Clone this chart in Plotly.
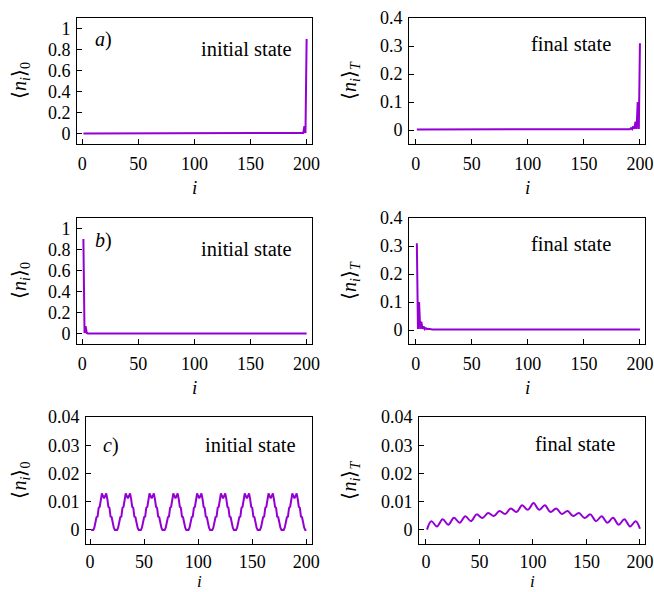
import plotly.graph_objects as go

W, H = 654, 592
PURPLE = "#9400D3"
FONT = "Liberation Serif"

# ---------------- data ----------------
sites = list(range(1, 201))

# panel a: initial / final occupation
a_initial = [0.0] * 195 + [0.001, 0.005, 0.07, 0.004, 0.90]
a_final = [0.002] * 188 + [0.003, 0.004, 0.003, 0.007, 0.003, 0.013,
                           0.004, 0.030, 0.004, 0.100, 0.004, 0.310]

# panel b: initial / final occupation
b_initial = [0.90, 0.004, 0.07, 0.005, 0.001] + [0.0] * 195
b_final = [0.310, 0.004, 0.100, 0.004, 0.030, 0.004, 0.013, 0.003,
           0.007, 0.003, 0.004, 0.003] + [0.002] * 188

# panel c: initial occupation (stepped periodic pattern)
c_initial = [0.0,
    0, 0, 0.0008, 0.0025, 0.0045, 0.0047, 0.0078, 0.0082, 0.0110, 0.0129, 0.0120, 0.0112, 0.0120, 0.0129, 0.0110, 0.0082, 0.0078, 0.0047, 0.0045, 0.0025, 0.0008, 0,
    0, 0, 0.0008, 0.0025, 0.0045, 0.0047, 0.0078, 0.0082, 0.0110, 0.0129, 0.0120, 0.0112, 0.0120, 0.0129, 0.0110, 0.0082, 0.0078, 0.0047, 0.0045, 0.0025, 0.0008, 0,
    0, 0, 0.0008, 0.0025, 0.0045, 0.0047, 0.0078, 0.0082, 0.0110, 0.0129, 0.0120, 0.0112, 0.0120, 0.0129, 0.0110, 0.0082, 0.0078, 0.0047, 0.0045, 0.0025, 0.0008, 0,
    0, 0, 0.0008, 0.0025, 0.0045, 0.0047, 0.0078, 0.0082, 0.0110, 0.0129, 0.0120, 0.0112, 0.0120, 0.0129, 0.0110, 0.0082, 0.0078, 0.0047, 0.0045, 0.0025, 0.0008, 0,
    0, 0, 0.0008, 0.0025, 0.0045, 0.0047, 0.0078, 0.0082, 0.0110, 0.0129, 0.0120, 0.0112, 0.0120, 0.0129, 0.0110, 0.0082, 0.0078, 0.0047, 0.0045, 0.0025, 0.0008, 0,
    0, 0, 0.0008, 0.0025, 0.0045, 0.0047, 0.0078, 0.0082, 0.0110, 0.0129, 0.0120, 0.0112, 0.0120, 0.0129, 0.0110, 0.0082, 0.0078, 0.0047, 0.0045, 0.0025, 0.0008, 0,
    0, 0, 0.0008, 0.0025, 0.0045, 0.0047, 0.0078, 0.0082, 0.0110, 0.0129, 0.0120, 0.0112, 0.0120, 0.0129, 0.0110, 0.0082, 0.0078, 0.0047, 0.0045, 0.0025, 0.0008, 0,
    0, 0, 0.0008, 0.0025, 0.0045, 0.0047, 0.0078, 0.0082, 0.0110, 0.0129, 0.0120, 0.0112, 0.0120, 0.0129, 0.0110, 0.0082, 0.0078, 0.0047, 0.0045, 0.0025, 0.0008, 0,
    0, 0, 0.0008, 0.0025, 0.0045, 0.0047, 0.0078, 0.0082, 0.0110, 0.0129, 0.0120, 0.0112, 0.0120, 0.0129, 0.0110, 0.0082, 0.0078, 0.0047, 0.0045, 0.0025, 0.0008, 0,
    0.0]

# panel c: final occupation (extrema of the smooth oscillating profile)
c_final_sites = [1, 5, 10.3, 15.6, 20.9, 26.2, 31.5, 36.8, 42.1, 47.4, 52.8, 58.1,
                 63.4, 68.7, 74.0, 79.3, 84.6, 89.9, 95.2, 100.5,
                 105.8, 111.1, 116.4, 121.7, 127.0, 132.3, 137.6, 142.9, 148.2,
                 153.6, 158.9, 164.2, 169.5, 174.8, 180.1, 185.4, 190.7, 196.0, 200]
c_final = [0.0001, 0.0031, 0.0012, 0.0038, 0.0018, 0.0043, 0.0025, 0.0048, 0.0031,
           0.0055, 0.0042, 0.0060, 0.0049, 0.0067, 0.0056, 0.0076, 0.0063, 0.0087,
           0.0071, 0.0095,
           0.0071, 0.0087, 0.0063, 0.0076, 0.0056, 0.0067, 0.0049, 0.0060, 0.0042,
           0.0055, 0.0031, 0.0048, 0.0025, 0.0043, 0.0018, 0.0038, 0.0012, 0.0031,
           0.0004]

x_ticks = [0, 50, 100, 150, 200]
y_ticks_big = [0, 0.2, 0.4, 0.6, 0.8, 1]
y_ticks_big_txt = ["0", "0.2", "0.4", "0.6", "0.8", "1"]
y_ticks_mid = [0, 0.1, 0.2, 0.3, 0.4]
y_ticks_mid_txt = ["0", "0.1", "0.2", "0.3", "0.4"]
y_ticks_small = [0, 0.01, 0.02, 0.03, 0.04]
y_ticks_small_txt = ["0", "0.01", "0.02", "0.03", "0.04"]

ylab0 = "⟨<i>n<sub>i</sub></i>⟩<sub>0</sub>"
ylabT = "⟨<i>n<sub>i</sub></i>⟩<sub><i>T</i></sub>"

# panels: (x, y, line_shape, box px [l, r, t, b], xrange, yrange, yticks, yticktxt,
#          ylabel, state text, panel tag)
panels = [
    (sites, a_initial, "linear", [77, 312, 18, 144], [-4.7, 204.8], [-0.1, 1.1],
     y_ticks_big, y_ticks_big_txt, ylab0, "initial state", "a"),
    (sites, a_final, "linear", [409, 645, 18, 144], [-6.0, 204.5], [-0.05, 0.4],
     y_ticks_mid, y_ticks_mid_txt, ylabT, "final state", None),
    (sites, b_initial, "linear", [77, 312, 218, 344], [-4.7, 204.8], [-0.1, 1.1],
     y_ticks_big, y_ticks_big_txt, ylab0, "initial state", "b"),
    (sites, b_final, "linear", [409, 645, 218, 344], [-6.0, 204.5], [-0.05, 0.4],
     y_ticks_mid, y_ticks_mid_txt, ylabT, "final state", None),
    (sites, c_initial, "linear", [86, 312, 417, 544], [-3.7, 205.2], [-0.005, 0.04],
     y_ticks_small, y_ticks_small_txt, ylab0, "initial state", "c"),
    (c_final_sites, c_final, "spline", [419, 645, 417, 544], [-6.5, 204.7], [-0.005, 0.04],
     y_ticks_small, y_ticks_small_txt, ylabT, "final state", None),
]

fig = go.Figure()
annotations = []
layout = {}
tickfont = dict(family=FONT, size=18, color="black")

for k, (xs, ys, shape, box, xr, yr, yt, ytt, ylab, state, tag) in enumerate(panels):
    n = k + 1
    xa = "x" if n == 1 else f"x{n}"
    ya = "y" if n == 1 else f"y{n}"
    l, r, t, b = box
    fig.add_trace(go.Scatter(
        x=xs, y=ys, mode="lines", xaxis=xa, yaxis=ya,
        line=dict(color=PURPLE, width=2, shape=shape),
        showlegend=False, hoverinfo="skip"))
    common = dict(showline=True, linecolor="black", linewidth=1, mirror=True,
                  ticks="inside", ticklen=5, tickcolor="black", tickwidth=1,
                  showgrid=False, zeroline=False, tickfont=tickfont,
                  automargin=False)
    layout["xaxis" if n == 1 else f"xaxis{n}"] = dict(
        domain=[l / W, r / W], range=xr, anchor=ya, tickvals=x_ticks,
        ticktext=[str(v) for v in x_ticks],
        ticklabelstandoff=(3 if t < 400 else 1), **common)
    layout["yaxis" if n == 1 else f"yaxis{n}"] = dict(
        domain=[1 - b / H, 1 - t / H], range=yr, anchor=xa, tickvals=yt,
        ticktext=ytt, ticklabelstandoff=2, **common)
    # axis titles
    ylab_x = 20 if l < 200 else 350
    annotations.append(dict(text=ylab, x=ylab_x / W, y=1 - ((t + b) / 2) / H,
                            xref="paper", yref="paper", showarrow=False,
                            textangle=-90, xanchor="center", yanchor="middle",
                            font=dict(family=FONT, size=20, color="black")))
    if t < 400:
        i_pos = dict(y=1 - (b + 43) / H, yanchor="middle")
        i_size = 19
    else:
        i_pos = dict(y=0, yanchor="bottom", borderpad=0)
        i_size = 17
    annotations.append(dict(text="<i>i</i>", x=((l + r) / 2) / W,
                            xref="paper", yref="paper", showarrow=False,
                            xanchor="center",
                            font=dict(family=FONT, size=i_size, color="black"),
                            **i_pos))
    # state text
    if l < 200:
        sx, sy = (294 if t < 400 else 298), (t + 31 if t < 400 else 445)
    else:
        sx, sy = (613 if t < 400 else 617), (t + 26 if t < 400 else 444)
    annotations.append(dict(text=state, x=sx / W, y=1 - sy / H, xref="paper",
                            yref="paper", showarrow=False, xanchor="right",
                            yanchor="middle",
                            font=dict(family=FONT, size=20.5, color="black")))
    if tag:
        tx = 93 if t < 400 else 101
        ty = t + 22 if t < 400 else 445
        annotations.append(dict(text=f"<i>{tag}</i>)", x=tx / W, y=1 - ty / H,
                                xref="paper", yref="paper", showarrow=False,
                                xanchor="left", yanchor="middle",
                                font=dict(family=FONT, size=20, color="black")))

fig.update_layout(width=W, height=H, margin=dict(l=0, r=0, t=0, b=0),
                  paper_bgcolor="white", plot_bgcolor="white",
                  annotations=annotations, **layout)
fig.write_html("out.html", config={"displayModeBar": False},
               post_script="document.body.style.margin='0';"
                           "document.body.style.overflow='hidden';")
